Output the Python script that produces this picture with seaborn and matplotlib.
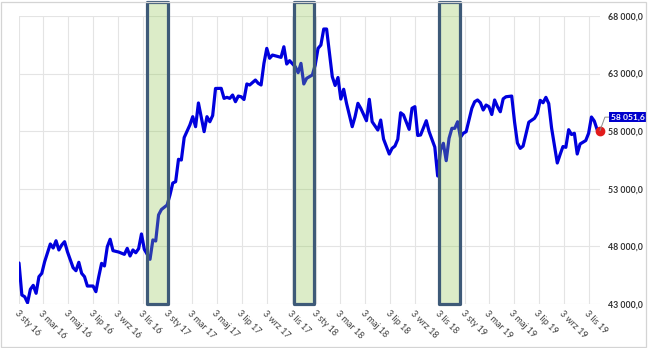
import matplotlib
matplotlib.use("Agg")
import matplotlib.pyplot as plt
import matplotlib.dates as mdates
from matplotlib.patches import Rectangle
import numpy as np
import pandas as pd
import seaborn as sns

# Weekly index level (weeks counted from the first observation)
start_date = "2016-01-03"
week_index = [
    0, 1, 2, 3, 4, 5, 6, 7, 8, 9, 11, 12, 13, 14, 15, 16, 17, 19, 20, 21,
    22, 23, 24, 26, 27, 28, 29, 30, 31, 32, 33, 35, 37, 38, 39, 40, 41, 42, 43, 44,
    46, 47, 48, 49, 50, 52, 53, 54, 55, 56, 57, 58, 60, 61, 62, 63, 64, 65, 66, 67,
    68, 69, 71, 72, 73, 74, 75, 76, 77, 78, 79, 80, 81, 83, 84, 85, 86, 87, 88, 89,
    91, 92, 93, 94, 95, 97, 98, 99, 100, 101, 103, 104, 105, 106, 107, 108, 109, 110, 111, 112,
    113, 114, 115, 117, 118, 119, 120, 122, 123, 124, 126, 127, 128, 130, 131, 132, 133, 134, 135, 137,
    138, 139, 140, 141, 143, 144, 146, 147, 148, 149, 150, 151, 152, 153, 154, 155, 156, 157, 159, 160,
    161, 162, 163, 164, 165, 166, 167, 168, 169, 170, 171, 173, 174, 175, 176, 177, 179, 181, 182, 183,
    184, 185, 186, 187, 189, 190, 191, 192, 193, 194, 195, 196, 197, 199, 200, 201, 202, 203, 204,
]
index_value = [
    46560, 43780, 43630, 43110, 44280, 44620, 43930, 45370, 45660, 46670,
    48210, 47860, 48490, 47690, 48120, 48410, 47540, 46150, 45890, 46620,
    45660, 45370, 44560, 44560, 44070, 45370, 46530, 46300, 47970, 48620,
    47630, 47510, 47310, 47830, 47170, 47690, 47450, 47800, 49080, 47750,
    46880, 48560, 48470, 50730, 51200, 51590, 52460, 53500, 53620, 55560,
    55500, 57450, 58540, 59260, 58390, 60450, 59190, 57960, 59260, 58820,
    59360, 61710, 61720, 60850, 60940, 60850, 61140, 60560, 61050, 60990,
    60750, 62100, 62010, 62440, 62160, 62010, 63890, 65190, 64330, 64610,
    64470, 64410, 65330, 63830, 64120, 63600, 63080, 63890, 62100, 62590,
    62880, 63750, 65190, 65480, 66870, 66870, 64760, 62730, 61970, 62660,
    60790, 61640, 60420, 58390, 59260, 60420, 59990, 58910, 60770, 58820,
    58100, 58970, 57320, 56020, 56510, 56710, 57300, 59600, 59410, 58160,
    59990, 60130, 57630, 57670, 58910, 57960, 56620, 54110, 56370, 56950,
    55440, 57380, 58250, 58250, 58820, 57470, 57820, 57960, 59990, 60560,
    60710, 60470, 59840, 60270, 60130, 59450, 60710, 60130, 59690, 60810,
    60990, 61050, 58800, 56970, 56510, 56710, 58780, 59120, 59550, 60680,
    60470, 60940, 60400, 58280, 55240, 55980, 56670, 56600, 58130, 57710,
    57820, 56020, 56890, 57190, 57820, 59230, 58880, 58130, 58051.6,
]

# Shaded periods
highlight_starts = ["2016-11-12", "2017-11-09", "2018-11-01"]
highlight_ends = ["2017-01-04", "2017-12-29", "2018-12-23"]

# Axis ticks
tick_years = [2016, 2017, 2018, 2019]
tick_months = [1, 3, 5, 7, 9, 11]
month_abbr = ["sty", "mar", "maj", "lip", "wrz", "lis"]
y_ticks = [43000, 48000, 53000, 58000, 63000, 68000]


def pl_number(v):
    return f"{v:,.1f}".replace(",", " ").replace(".", ",")


sns.set_theme(style="white")
plt.rcParams["font.family"] = ["Lato", "DejaVu Sans"]

W, H = 649, 348
fig = plt.figure(figsize=(W / 100, H / 100), dpi=100)
fig.patch.set_facecolor("white")
ax = fig.add_axes([19 / W, 1 - 304 / H, (600 - 19) / W, (304 - 16) / H])

dates = pd.Timestamp(start_date) + pd.to_timedelta(np.array(week_index) * 7, unit="D")
df = pd.DataFrame({"date": dates, "value": index_value})

sns.lineplot(data=df, x="date", y="value", ax=ax, color="#0000dd",
             linewidth=2.3, zorder=3)
ax.lines[0].set_solid_joinstyle("round")

x_first = mdates.date2num(dates[0])
x_last = mdates.date2num(dates[-1])
ax.set_xlim(x_first, x_last)
ax.set_ylim(y_ticks[0], y_ticks[-1])

# Highlighted periods, extending a little above the plotting area
box_top = 69200
for s, e in zip(highlight_starts, highlight_ends):
    x0 = mdates.date2num(pd.Timestamp(s))
    x1 = mdates.date2num(pd.Timestamp(e))
    ax.add_patch(Rectangle((x0, y_ticks[0]), x1 - x0, box_top - y_ticks[0],
                           facecolor="#8cc34a", alpha=0.3, edgecolor="none",
                           clip_on=False, zorder=4))
    ax.add_patch(Rectangle((x0, y_ticks[0]), x1 - x0, box_top - y_ticks[0],
                           fill=False, edgecolor="#3e5a78", linewidth=2.3,
                           joinstyle="round", clip_on=False, zorder=5))

# Last value marker and its label
last_val = index_value[-1]
ax.plot([x_last], [last_val], marker="o", color="#e21b1b", markersize=6,
        linestyle="none", clip_on=False, zorder=6)
ax.annotate(pl_number(last_val), xy=(x_last, last_val), xytext=(7.8, 9.7),
            textcoords="offset points", ha="left", va="center",
            color="white", fontsize=6.1, fontweight="bold",
            bbox=dict(boxstyle="square,pad=0.2", fc="#0000cc", ec="none"),
            arrowprops=dict(arrowstyle="-", color="#8c8c8c", lw=0.7,
                            connectionstyle="angle,angleA=180,angleB=70,rad=0",
                            shrinkA=0, shrinkB=0),
            annotation_clip=False, zorder=7)

# X ticks: every second month, on the 3rd
tick_dates = []
tick_labels = []
for yr in tick_years:
    for m, ab in zip(tick_months, month_abbr):
        d = pd.Timestamp(yr, m, 3)
        if d <= dates[-1]:
            tick_dates.append(mdates.date2num(d))
            tick_labels.append(f"3 {ab} {str(yr)[2:]}")
ax.set_xticks(tick_dates)
ax.set_xticklabels(tick_labels, rotation=-45, ha="left", va="top",
                   rotation_mode="anchor", fontsize=6.5, color="#404040")
ax.tick_params(axis="x", length=0, pad=3.5)

ax.yaxis.tick_right()
ax.set_yticks(y_ticks)
ax.set_yticklabels([pl_number(v) for v in y_ticks], fontsize=6.3,
                   fontweight="bold", color="#333333")
ax.tick_params(axis="y", length=0, pad=5.8)

ax.grid(True, color="#e4e4e4", linewidth=0.8)
ax.set_axisbelow(True)
for sp in ax.spines.values():
    sp.set_visible(False)
ax.set_xlabel("")
ax.set_ylabel("")

# Thin frame around the whole figure
fig.patches.append(Rectangle((1 / W, 1.5 / H), 644.5 / W, 345 / H,
                             transform=fig.transFigure, fill=False,
                             edgecolor="#d4d4d4", linewidth=0.9))

fig.savefig("out.png", dpi=100)
